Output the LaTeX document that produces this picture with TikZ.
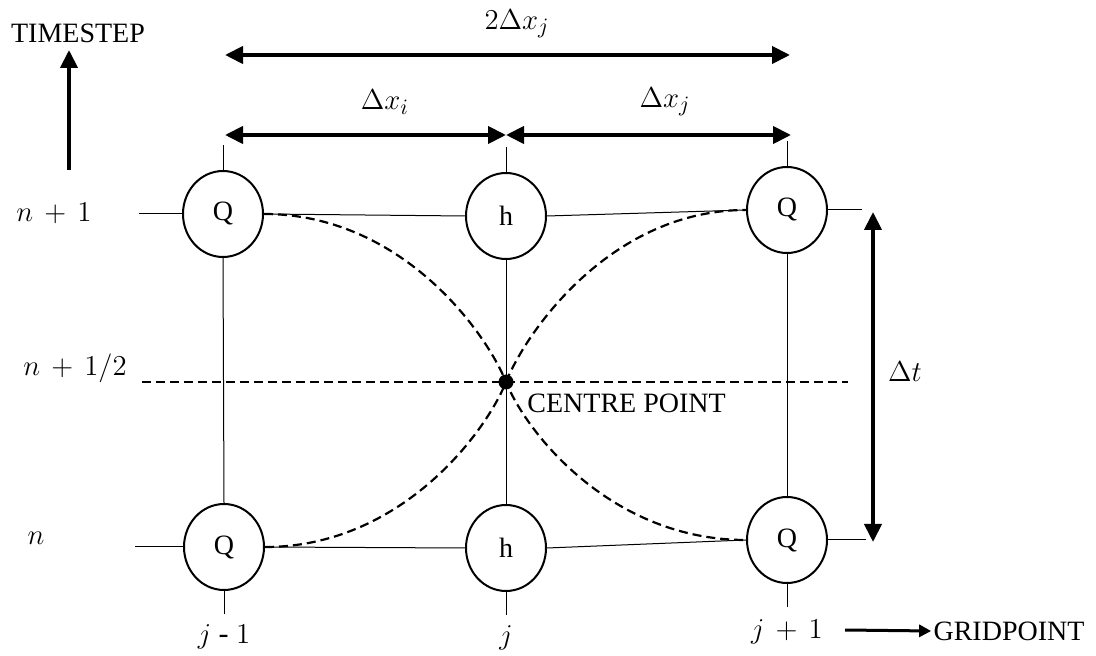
\documentclass[tikz,border=0pt]{standalone}
\usepackage{fontspec}
\setmainfont{Liberation Serif}
\usetikzlibrary{arrows.meta,shapes.geometric}
\begin{document}
\begin{tikzpicture}[x=0.5pt,y=-0.5pt,
  cell/.style={draw, ellipse, line width=1pt, minimum width=40pt, minimum height=43pt, inner sep=0pt, font=\fontsize{14}{16}\selectfont},
  gridline/.style={line width=0.5pt},
  dashline/.style={dash pattern=on 4.5pt off 2.5pt, line width=1.1pt},
  dimarrow/.style={line width=2pt, {Triangle[length=9pt,width=8.5pt]}-{Triangle[length=9pt,width=8.5pt]}},
  uparrow/.style={line width=2pt, -{Triangle[length=9pt,width=8.5pt]}},
  garrow/.style={line width=1.5pt, -{Triangle[length=6pt,width=6pt]}},
  txt/.style={font=\fontsize{14}{16}\selectfont, inner sep=1pt},
  mlab/.style={font=\fontsize{15}{17}\selectfont, inner sep=1pt},
  dlab/.style={font=\fontsize{15}{17}\selectfont, inner sep=1pt}
]
\useasboundingbox (0,0) rectangle (1096,656);

% cells
\node[cell] (qtl) at (223,214) {Q};
\node[cell] (htop) at (506,216) {h};
\node[cell] (qtr) at (787,210) {Q};
\node[cell] (qbl) at (224,547) {Q};
\node[cell] (hbot) at (506,548) {h};
\node[cell] (qbr) at (787,540) {Q};

% grid connectors
\draw[gridline] (qtl.east) -- (htop.west);
\draw[gridline] (htop.east) -- (qtr.west);
\draw[gridline] (qbl.east) -- (hbot.west);
\draw[gridline] (hbot.east) -- (qbr.west);
\draw[gridline] (qtl.south) -- (qbl.north);
\draw[gridline] (htop.south) -- (hbot.north);
\draw[gridline] (qtr.south) -- (qbr.north);

% ticks
\draw[gridline] (qtl.north) -- ++(0,-25);
\draw[gridline] (htop.north) -- ++(0,-25);
\draw[gridline] (qtr.north) -- ++(0,-25);
\draw[gridline] (qbl.south) -- ++(0,23);
\draw[gridline] (hbot.south) -- ++(0,23);
\draw[gridline] (qbr.south) -- ++(0,23);
\draw[gridline] (qtl.west) -- ++(-43,0);
\draw[gridline] (qbl.west) -- ++(-48,0);
\draw[gridline] (qtr.east) -- ++(34,0);
\draw[gridline] (qbr.east) -- ++(38,0);

% half-step dashed line
\coordinate (dl) at (142,382);
\coordinate (dr) at (848,382);
\draw[dashline] (dl) -- (dr);

% centre point
\coordinate (cp) at (506,382);
\draw[dashline] (qtl.east) .. controls (400,214) and (485,330) .. (cp)
  .. controls (527,434) and (612,540) .. (qbr.west);
\draw[dashline] (qbl.east) .. controls (400,547) and (485,434) .. (cp)
  .. controls (527,330) and (612,210) .. (qtr.west);
\node[circle, fill=black, minimum size=7.5pt, inner sep=0pt] (cpdot) at (cp) {};
\node[txt, anchor=west] (cplab) at (525,403) {CENTRE POINT};

% dimension arrows
\coordinate (a2l) at (225,55);
\coordinate (a2r) at (790,55);
\draw[dimarrow] (a2l) -- (a2r);
\node[dlab] (l2dx) at (517,24) {$2\Delta x_j$};
\coordinate (ail) at (225,135);
\coordinate (aim) at (506,135);
\coordinate (air) at (791,135);
\draw[dimarrow] (ail) -- (aim);
\draw[dimarrow] (aim) -- (air);
\node[dlab] (ldxi) at (385,102) {$\Delta x_i$};
\node[dlab] (ldxj) at (665,102) {$\Delta x_j$};
\coordinate (att) at (873,212);
\coordinate (atb) at (873,542);
\draw[dimarrow] (att) -- (atb);
\node[dlab] (ldt) at (905,372) {$\Delta t$};

% axes labels
\node[txt] (timestep) at (78,33) {TIMESTEP};
\coordinate (ta) at (69,170);
\draw[uparrow] (ta) -- ++(0,-120);
\node[txt] (gridpoint) at (1009,631) {GRIDPOINT};
\coordinate (ga) at (845,630);
\draw[garrow] (ga) -- (gridpoint.west);

% row labels
\node[mlab] (rn1) at (54,213) {$n\,+\,1$};
\node[mlab] (rnh) at (75,368) {$n\,+\,1/2$};
\node[mlab] (rn) at (36,538) {$n$};

% column labels
\node[mlab] (cjm) at (224,637) {$j$ - $1$};
\node[mlab] (cj) at (506,638) {$j$};
\node[mlab] (cjp) at (787,632) {$j\,+\,1$};
\end{tikzpicture}
\end{document}
